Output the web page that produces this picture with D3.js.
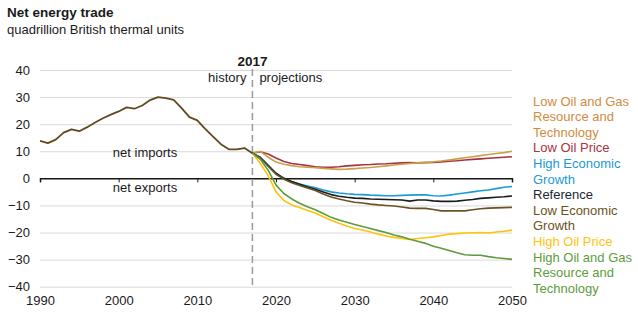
<!DOCTYPE html>
<html>
<head>
<meta charset="utf-8">
<script src="https://cdn.jsdelivr.net/npm/d3@7"></script>
<style>
  body { margin: 0; background: #fff; }
  svg { font-family: "Liberation Sans", Arial, sans-serif; }
</style>
</head>
<body>
<div class="chart"></div>
<script>
// history 1990-2017
var histYears = d3.range(1990, 2018);
var histValues = [13.8, 13.0, 14.3, 16.9, 18.1, 17.4, 18.9, 20.6, 22.2, 23.5,
  24.7, 26.2, 25.7, 26.9, 28.9, 30.0, 29.6, 29.0, 25.9, 22.6,
  21.4, 18.3, 15.4, 12.6, 10.7, 10.7, 11.2, 9.3];

// projections 2017-2050
var projYears = d3.range(2017, 2051);
var lowOilGasRes = [9.3, 10.0, 7.8, 6.0, 5.2, 4.7, 4.3, 4.1, 3.9, 3.7, 3.5, 3.3, 3.4, 3.6, 3.8, 4.0, 4.3,
  4.6, 4.9, 5.2, 5.5, 5.7, 5.9, 6.1, 6.4, 6.8, 7.2, 7.6, 8.0, 8.4, 8.8, 9.2, 9.5, 10.0];
var lowOilPrice = [9.3, 9.8, 9.0, 7.5, 6.2, 5.5, 5.1, 4.7, 4.3, 4.1, 4.1, 4.3, 4.6, 4.8, 5.0, 5.1, 5.3,
  5.4, 5.6, 5.7, 5.8, 5.7, 5.8, 5.9, 6.1, 6.3, 6.5, 6.8, 7.0, 7.2, 7.4, 7.6, 7.8, 8.0];
var highEconGrowth = [9.3, 7.8, 4.9, 1.8, 0.0, -1.3, -2.1, -2.8, -3.5, -4.3, -5.0, -5.4, -5.7, -5.9, -6.0, -6.2, -6.3,
  -6.4, -6.4, -6.3, -6.2, -6.1, -6.1, -6.4, -6.5, -6.2, -5.8, -5.4, -5.0, -4.6, -4.3, -3.8, -3.3, -3.0];
var reference = [9.3, 7.7, 4.7, 1.9, 0.0, -1.2, -2.2, -3.2, -4.0, -5.0, -6.0, -6.6, -7.0, -7.3, -7.4, -7.6, -7.7,
  -7.8, -7.9, -8.0, -8.4, -8.0, -8.0, -8.3, -8.5, -8.5, -8.4, -8.1, -7.8, -7.4, -7.2, -7.0, -6.8, -6.5];
var lowEconGrowth = [9.3, 7.6, 4.5, 1.5, -0.3, -1.6, -2.6, -3.6, -4.5, -5.8, -6.9, -7.6, -8.3, -8.8, -9.1, -9.5, -9.8,
  -10.0, -10.2, -10.6, -11.0, -11.1, -11.1, -11.5, -12.0, -12.0, -12.0, -12.0, -11.6, -11.2, -11.0, -10.9, -10.8, -10.7];
var highOilPrice = [9.3, 5.5, 1.0, -5.0, -8.2, -9.8, -10.8, -11.9, -12.8, -14.2, -15.5, -16.6, -17.6, -18.5, -19.1, -19.8, -20.6,
  -21.3, -21.8, -22.2, -22.6, -22.2, -21.9, -21.6, -21.1, -20.6, -20.4, -20.2, -20.1, -20.0, -20.2, -19.8, -19.5, -19.1];
var highOilGasRes = [9.3, 7.0, 3.0, -2.5, -5.6, -7.6, -9.2, -10.5, -11.6, -13.0, -14.4, -15.4, -16.2, -17.0, -17.8, -18.5, -19.3,
  -20.0, -20.9, -21.6, -22.5, -23.2, -24.0, -25.1, -25.8, -26.6, -27.5, -28.2, -28.4, -28.4, -28.9, -29.3, -29.6, -29.9];

var yTicks = [40, 30, 20, 10, 0, -10, -20, -30, -40];
var xTicks = [1990, 2000, 2010, 2020, 2030, 2040, 2050];

var series = [
  {name: ["Low Oil and Gas", "Resource and", "Technology"], values: lowOilGasRes, color: "#C9A04B", text: "#D38B3E"},
  {name: ["Low Oil Price"], values: lowOilPrice, color: "#A8323F", text: "#A8323F"},
  {name: ["High Economic", "Growth"], values: highEconGrowth, color: "#1B9AD6", text: "#1B9AD6"},
  {name: ["Reference"], values: reference, color: "#1C1C1C", text: "#1A2633"},
  {name: ["Low Economic", "Growth"], values: lowEconGrowth, color: "#6B5222", text: "#6B5222"},
  {name: ["High Oil Price"], values: highOilPrice, color: "#FFC20E", text: "#FFC20E"},
  {name: ["High Oil and Gas", "Resource and", "Technology"], values: highOilGasRes, color: "#5E9B3D", text: "#5E9B3D"}
];

var w = 638;
var h = 326;
var fs = 13;

var x = d3.scaleLinear().domain([1990, 2050]).range([40, 512]);
var y = d3.scaleLinear().domain([-40, 40]).range([286.7, 70]);

var svg = d3.select(".chart")
  .append("svg")
  .attr("width", w)
  .attr("height", h);

// titles
svg.append("text")
  .attr("x", 7).attr("y", 17)
  .attr("font-size", 13.5).attr("font-weight", "bold").attr("fill", "#1a1a1a")
  .text("Net energy trade");
svg.append("text")
  .attr("x", 7).attr("y", 34)
  .attr("font-size", fs).attr("fill", "#1a1a1a")
  .text("quadrillion British thermal units");

// gridlines + y labels
var yAxis = d3.axisLeft(y)
  .tickValues(yTicks)
  .tickSize(-(x.range()[1] - x.range()[0]))
  .tickPadding(10)
  .tickFormat(d3.format("d"));

var gy = svg.append("g")
  .attr("transform", "translate(" + x.range()[0] + ",0)")
  .call(yAxis);
gy.select(".domain").remove();
gy.selectAll("line").attr("stroke", "#d9d9d9").attr("stroke-width", 1);
gy.selectAll("text").attr("font-size", fs).attr("fill", "#1a1a1a")
  .attr("font-family", "Liberation Sans, Arial, sans-serif");

// zero line with ticks
var zeroAxis = d3.axisBottom(x)
  .tickValues(xTicks)
  .tickSize(4)
  .tickFormat("");
var gz = svg.append("g")
  .attr("transform", "translate(0," + y(0) + ")")
  .call(zeroAxis);
gz.select(".domain").attr("stroke", "#1a1a1a").attr("stroke-width", 1.5);
gz.selectAll(".tick line").attr("stroke", "#1a1a1a").attr("stroke-width", 1);

// x labels along the bottom
var labelAxis = d3.axisBottom(x)
  .tickValues(xTicks)
  .tickSize(0)
  .tickPadding(9)
  .tickFormat(d3.format("d"));
var gx = svg.append("g")
  .attr("transform", "translate(0," + y(-40) + ")")
  .call(labelAxis);
gx.select(".domain").remove();
gx.selectAll("text").attr("font-size", fs).attr("fill", "#1a1a1a")
  .attr("font-family", "Liberation Sans, Arial, sans-serif");

// 2017 divider
svg.append("line")
  .attr("x1", x(2017)).attr("x2", x(2017))
  .attr("y1", 69).attr("y2", y(-40) + 1)
  .attr("stroke", "#9a9a9a")
  .attr("stroke-width", 1.5)
  .attr("stroke-dasharray", "7,4");

svg.append("text")
  .attr("x", x(2017)).attr("y", 66)
  .attr("text-anchor", "middle")
  .attr("font-size", 13.5).attr("font-weight", "bold").attr("fill", "#1a1a1a")
  .text("2017");
svg.append("text")
  .attr("x", x(2017) - 6).attr("y", 82)
  .attr("text-anchor", "end")
  .attr("font-size", fs).attr("fill", "#1a1a1a")
  .text("history");
svg.append("text")
  .attr("x", x(2017) + 7).attr("y", 82)
  .attr("font-size", fs).attr("fill", "#1a1a1a")
  .text("projections");

svg.append("text")
  .attr("x", 145).attr("y", 157)
  .attr("text-anchor", "middle")
  .attr("font-size", fs).attr("fill", "#1a1a1a")
  .text("net imports");
svg.append("text")
  .attr("x", 145).attr("y", 192)
  .attr("text-anchor", "middle")
  .attr("font-size", fs).attr("fill", "#1a1a1a")
  .text("net exports");

// lines
var lineGen = d3.line()
  .x(function(d) { return x(d[0]); })
  .y(function(d) { return y(d[1]); });

var drawOrder = [1, 0, 2, 3, 4, 5, 6];
drawOrder.forEach(function(i) {
  var s = series[i];
  svg.append("path")
    .attr("d", lineGen(d3.zip(projYears, s.values)))
    .attr("fill", "none")
    .attr("stroke", s.color)
    .attr("stroke-width", 1.6)
    .attr("stroke-linejoin", "round");
});

svg.append("path")
  .attr("d", lineGen(d3.zip(histYears, histValues)))
  .attr("fill", "none")
  .attr("stroke", "#5f4b1f")
  .attr("stroke-width", 1.8)
  .attr("stroke-linejoin", "round");

// legend
var lineH = 15.6;
var ly = 105.5;
series.forEach(function(s) {
  s.name.forEach(function(t) {
    svg.append("text")
      .attr("x", 533).attr("y", ly)
      .attr("font-size", fs).attr("fill", s.text)
      .text(t);
    ly += lineH;
  });
});
</script>
</body>
</html>
